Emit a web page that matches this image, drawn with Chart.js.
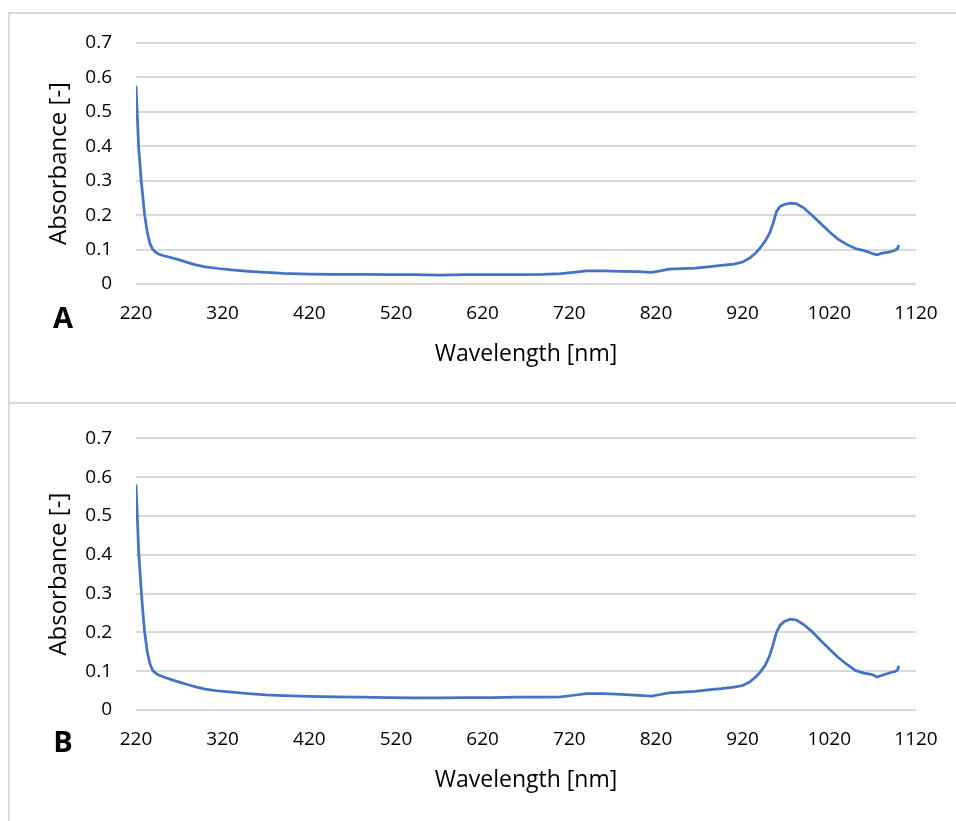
<!DOCTYPE html>
<html>
<head>
<meta charset="utf-8">
<script src="https://cdn.jsdelivr.net/npm/chart.js@4.4.0/dist/chart.umd.min.js"></script>
<style>
html, body { margin: 0; padding: 0; background: #fff; overflow: hidden; }
.frame { position: absolute; left: 8px; width: 1000px; border: 2px solid #d9d9d9; box-sizing: border-box; }
#frameA { top: 12px; height: 392px; }
#frameB { top: 402px; height: 440px; }
canvas { position: absolute; left: 0; }
#chartA { top: 0; }
#chartB { top: 403px; }
</style>
</head>
<body>
<div class="frame" id="frameA"></div>
<div class="frame" id="frameB"></div>
<canvas id="chartA" width="956" height="403"></canvas>
<canvas id="chartB" width="956" height="418"></canvas>
<script>
// wavelength in nm, same sampling for both spectra
var wavelengths = [220, 222, 223, 226, 228, 230, 233, 236, 239, 242, 246, 252, 260, 270, 280, 290, 300, 315, 330, 350,
	370, 390, 420, 450, 480, 510, 540, 570, 600, 630, 660, 690, 710, 725, 740, 760, 780, 800, 815, 825,
	835, 850, 865, 880, 895, 910, 920, 928, 935, 940, 946, 951, 955, 959, 963, 968, 975, 982, 990, 1000,
	1010, 1020, 1030, 1040, 1050, 1060, 1065, 1070, 1075, 1080, 1090, 1096, 1099, 1100];

var absorbanceA = [0.576, 0.46, 0.40, 0.30, 0.25, 0.20, 0.15, 0.118, 0.102, 0.094, 0.087, 0.082, 0.077, 0.070, 0.062, 0.055, 0.050, 0.045, 0.041, 0.037,
	0.034, 0.031, 0.029, 0.028, 0.028, 0.027, 0.027, 0.026, 0.027, 0.027, 0.027, 0.028, 0.030, 0.034, 0.038, 0.038, 0.037, 0.036, 0.034, 0.038,
	0.043, 0.045, 0.046, 0.050, 0.054, 0.058, 0.064, 0.075, 0.090, 0.104, 0.125, 0.147, 0.175, 0.210, 0.225, 0.231, 0.235, 0.233, 0.222, 0.200,
	0.176, 0.152, 0.130, 0.115, 0.103, 0.097, 0.093, 0.088, 0.085, 0.089, 0.093, 0.098, 0.104, 0.113];

var absorbanceB = [0.581, 0.47, 0.41, 0.31, 0.25, 0.20, 0.15, 0.120, 0.103, 0.096, 0.090, 0.085, 0.079, 0.072, 0.065, 0.059, 0.054, 0.049, 0.046, 0.042,
	0.039, 0.037, 0.035, 0.034, 0.033, 0.032, 0.031, 0.031, 0.032, 0.032, 0.033, 0.033, 0.034, 0.038, 0.042, 0.042, 0.040, 0.038, 0.036, 0.040,
	0.044, 0.046, 0.048, 0.052, 0.055, 0.059, 0.063, 0.072, 0.085, 0.097, 0.115, 0.139, 0.168, 0.200, 0.218, 0.228, 0.234, 0.232, 0.221, 0.202,
	0.179, 0.157, 0.136, 0.118, 0.102, 0.095, 0.093, 0.091, 0.085, 0.089, 0.096, 0.099, 0.104, 0.114];

var xTicks = [220, 320, 420, 520, 620, 720, 820, 920, 1020, 1120];
var yTicks = [0, 0.1, 0.2, 0.3, 0.4, 0.5, 0.6, 0.7];

var panelLetter = {
	id: 'panelLetter',
	afterDraw: function(chart, args, opts) {
		var ctx = chart.ctx;
		ctx.save();
		ctx.font = 'bold 29px "Open Sans"';
		ctx.fillStyle = '#000';
		ctx.textAlign = 'center';
		ctx.textBaseline = 'alphabetic';
		ctx.fillText(opts.text, 63, opts.y);
		ctx.restore();
	}
};

function makeChart(id, values, letter, letterY, padTop, padBottom) {
	var points = [];
	for (var i in wavelengths) {
		points.push({x: wavelengths[i], y: values[i]});
	}

	var font = {family: 'Open Sans', size: 19};

	return new Chart(document.getElementById(id), {
		type: 'line',
		data: {
			datasets: [{
				data: points,
				borderColor: '#4472C4',
				borderWidth: 2.75,
				pointRadius: 0,
				tension: 0,
				fill: false
			}]
		},
		options: {
			responsive: false,
			animation: false,
			layout: {padding: {left: 20, right: 40, top: padTop, bottom: padBottom}},
			plugins: {
				legend: {display: false},
				tooltip: {enabled: false},
				panelLetter: {text: letter, y: letterY}
			},
			scales: {
				x: {
					type: 'linear',
					min: 220,
					max: 1120,
					afterBuildTicks: function(s) { s.ticks = xTicks.map(function(v) { return {value: v}; }); },
					afterFit: function(s) { s.height = 100; },
					grid: {display: false, drawTicks: false},
					border: {display: false},
					ticks: {
						padding: 18, color: '#000', font: font, maxRotation: 0, autoSkip: false,
						callback: function(v) { return String(v); }
					},
					title: {display: true, text: 'Wavelength [nm]', color: '#000', font: {family: 'Open Sans', size: 23}, padding: {top: 0, bottom: 16}}
				},
				y: {
					min: 0,
					max: 0.7,
					afterBuildTicks: function(s) { s.ticks = yTicks.map(function(v) { return {value: v}; }); },
					afterFit: function(s) { s.width = 116; },
					grid: {color: '#d9d9d9', lineWidth: 2, drawTicks: false},
					border: {display: false},
					ticks: {
						padding: 24, color: '#000', font: font,
						callback: function(v) { return v === 0 ? '0' : v.toFixed(1); }
					},
					title: {display: true, text: 'Absorbance [-]', color: '#000', font: {family: 'Open Sans', size: 24}, padding: {top: 25, bottom: 0}}
				}
			}
		},
		plugins: [panelLetter]
	});
}

makeChart('chartA', absorbanceA, 'A', 328, 43, 19);
makeChart('chartB', absorbanceB, 'B', 349, 29, 11);
</script>
</body>
</html>
